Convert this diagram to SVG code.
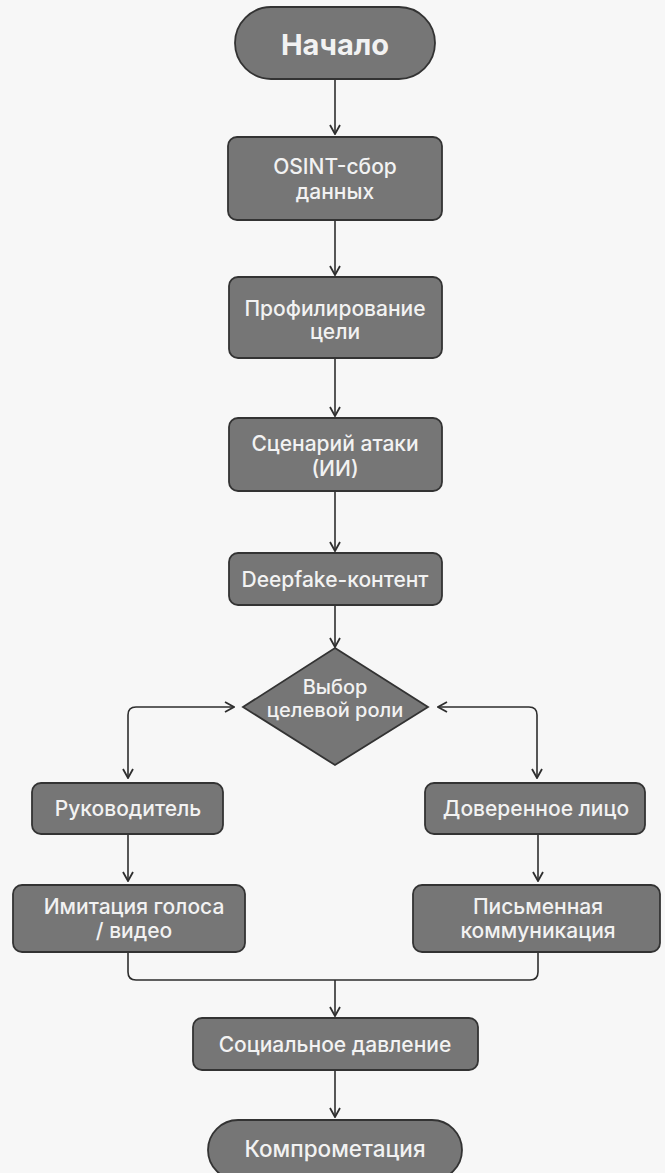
<svg xmlns="http://www.w3.org/2000/svg" width="665" height="1173" viewBox="0 0 665 1173">
<defs>
<marker id="ah" viewBox="0 0 12 12" refX="11" refY="6" markerWidth="12" markerHeight="12" markerUnits="userSpaceOnUse" orient="auto-start-reverse">
<path d="M2,1 L11,6 L2,11" fill="none" stroke="#2e2e2e" stroke-width="1.8"/>
</marker>
<style>
.n{fill:#767676;stroke:#333;stroke-width:1.8}
.t{font-family:Inter,"Noto Sans",sans-serif;font-size:21px;font-weight:500;fill:#f2f2f2;text-anchor:middle}
.b{font-size:29px;font-weight:700}
.c{fill:none;stroke:#2e2e2e;stroke-width:1.6}
</style>
</defs>
<rect width="665" height="1173" fill="#f7f7f7"/>
<g id="connectors">
<path class="c" d="M335,80 V134" marker-end="url(#ah)"/>
<path class="c" d="M335,220 V275" marker-end="url(#ah)"/>
<path class="c" d="M335,358 V416" marker-end="url(#ah)"/>
<path class="c" d="M335,491 V551" marker-end="url(#ah)"/>
<path class="c" d="M335,605 V647" marker-end="url(#ah)"/>
<path class="c" d="M128,778 V715 Q128,707 136,707 H234" marker-start="url(#ah)" marker-end="url(#ah)"/>
<path class="c" d="M438,707 H529 Q537,707 537,715 V778" marker-start="url(#ah)" marker-end="url(#ah)"/>
<path class="c" d="M128,834 V881" marker-end="url(#ah)"/>
<path class="c" d="M538,834 V881" marker-end="url(#ah)"/>
<path class="c" d="M128,952 V972 Q128,980 136,980 H530 Q538,980 538,972 V952"/>
<path class="c" d="M335,980 V1016" marker-end="url(#ah)"/>
<path class="c" d="M335,1070 V1117" marker-end="url(#ah)"/>
</g>
<g id="start">
<rect class="n" x="235" y="7" width="200" height="72" rx="36"/>
<text class="t b" x="335" y="55">Начало</text>
</g>
<g id="osint">
<rect class="n" x="228" y="137" width="214" height="83" rx="9"/>
<text class="t" x="335" y="174">OSINT-сбор</text>
<text class="t" x="335" y="199">данных</text>
</g>
<g id="profiling">
<rect class="n" x="229" y="277" width="213" height="81" rx="9"/>
<text class="t" x="335" y="316">Профилирование</text>
<text class="t" x="335" y="339">цели</text>
</g>
<g id="scenario">
<rect class="n" x="229" y="418" width="213" height="73" rx="9"/>
<text class="t" x="335" y="451">Сценарий атаки</text>
<text class="t" x="335" y="476">(ИИ)</text>
</g>
<g id="deepfake">
<rect class="n" x="229" y="553" width="213" height="52" rx="9"/>
<text class="t" x="335" y="587">Deepfake-контент</text>
</g>
<g id="choice">
<polygon class="n" points="335,648 428,707 335,765 243,707"/>
<text class="t" x="335" y="694" style="font-size:20px">Выбор</text>
<text class="t" x="335" y="717" style="font-size:20px">целевой роли</text>
</g>
<g id="manager">
<rect class="n" x="32" y="783" width="191" height="51" rx="9"/>
<text class="t" x="128" y="816">Руководитель</text>
</g>
<g id="trusted">
<rect class="n" x="425" y="783" width="220" height="51" rx="9"/>
<text class="t" x="536" y="816">Доверенное лицо</text>
</g>
<g id="voice">
<rect class="n" x="13" y="885" width="232" height="67" rx="9"/>
<text class="t" x="134" y="914">Имитация голоса</text>
<text class="t" x="134" y="938">/ видео</text>
</g>
<g id="written">
<rect class="n" x="413" y="885" width="247" height="67" rx="9"/>
<text class="t" x="538" y="914">Письменная</text>
<text class="t" x="538" y="938">коммуникация</text>
</g>
<g id="pressure">
<rect class="n" x="193" y="1018" width="285" height="52" rx="9"/>
<text class="t" x="335" y="1052">Социальное давление</text>
</g>
<g id="end">
<rect class="n" x="208" y="1120" width="254" height="60" rx="30"/>
<text class="t" x="335" y="1157" style="font-size:22.5px">Компрометация</text>
</g>
</svg>
